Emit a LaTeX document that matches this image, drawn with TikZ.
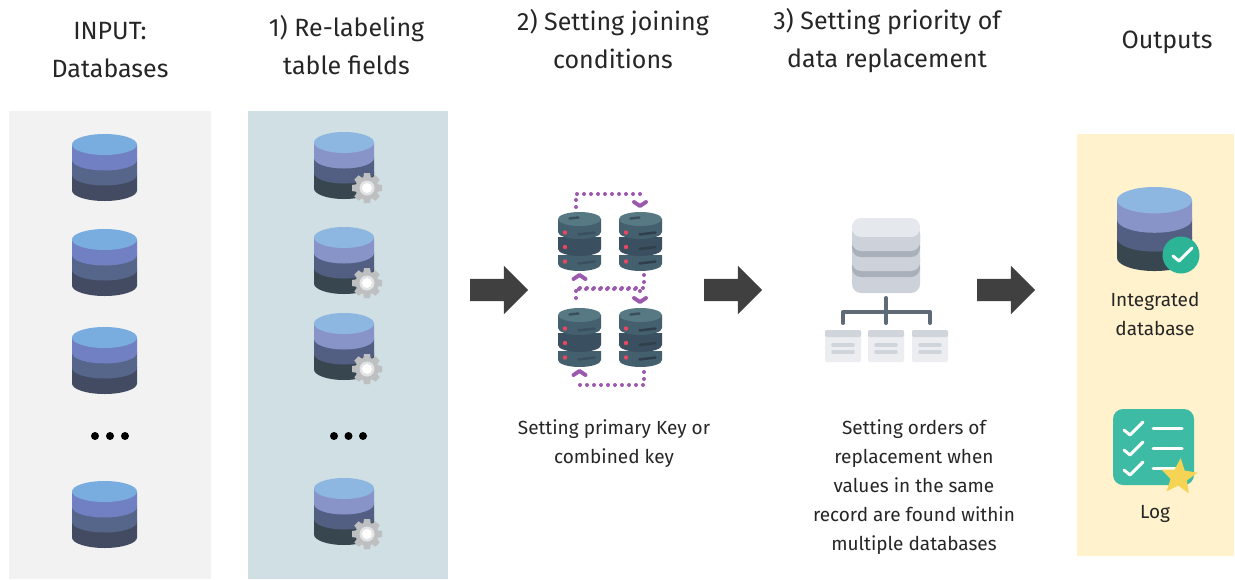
\documentclass[tikz,border=0pt]{standalone}
\usepackage{fontspec}
\setmainfont{Fira Sans}
\usetikzlibrary{shapes.arrows,shapes.geometric}
\definecolor{panelA}{HTML}{F2F2F2}
\definecolor{panelB}{HTML}{CFDFE3}
\definecolor{panelC}{HTML}{FFF2CC}
\definecolor{blockarrow}{HTML}{404040}
\definecolor{dotpurple}{HTML}{9B59AE}
\tikzset{
  x=1pt,y=-1pt,
  panel/.style={fill=#1,draw=none},
  heading/.style={font=\fontsize{25}{38}\selectfont,align=center,text=black!85,inner sep=0},
  caption/.style={font=\fontsize{19}{29}\selectfont,align=center,text=black!85,inner sep=0},
  flow/.style={single arrow,fill=blockarrow,draw=none,text height=22pt,text depth=0pt,text width=0pt,minimum width=48pt,minimum height=58pt,
    single arrow head extend=13pt,single arrow head indent=0pt,inner sep=0pt},
  dot/.style={circle,fill=black,draw=none,minimum size=8pt,inner sep=0pt},
  purplepath/.style={draw=dotpurple,line width=4pt,line cap=round,dash pattern=on 0pt off 7pt},
  chevron/.style={draw=dotpurple,line width=4pt,line cap=round,line join=round},
  pics/dbstack/.style n args={4}{code={
    \fill[#4] (-32.5,40) -- (-32.5,56.5) arc[start angle=180,end angle=0,x radius=32.5,y radius=10.5] -- (32.5,40) -- cycle;
    \fill[#3] (-32.5,25) -- (-32.5,41) arc[start angle=180,end angle=0,x radius=32.5,y radius=10.5] -- (32.5,25) -- cycle;
    \fill[#2] (-32.5,10.5) -- (-32.5,26) arc[start angle=180,end angle=0,x radius=32.5,y radius=10.5] -- (32.5,10.5) -- cycle;
    \fill[#1] (0,10.5) ellipse[x radius=32.5,y radius=10.5];
  }},
  pics/gear/.style={code={
    \foreach \a in {0,45,...,315}{
      \fill[gearC,rotate=\a] (-3,-15) -- (3,-15) -- (4,-9) -- (-4,-9) -- cycle;
    }
    \fill[gearC] (0,0) circle[radius=11.5];
    \fill[gearI] (0,0) circle[radius=7.5];
    \fill[white] (0,0) circle[radius=5];
  }},
  pics/server/.style={code={
    \fill[srvB] (-21.5,43) -- (-21.5,52) arc[start angle=180,end angle=0,x radius=21.5,y radius=7] -- (21.5,43) -- cycle;
    \fill[srvC] (-21.5,25) -- (-21.5,37) arc[start angle=180,end angle=0,x radius=21.5,y radius=7] -- (21.5,25) -- cycle;
    \fill[srvB] (-21.5,7) -- (-21.5,20) arc[start angle=180,end angle=0,x radius=21.5,y radius=7] -- (21.5,7) -- cycle;
    \fill[srvT] (0,7) ellipse[x radius=21.5,y radius=7];
    \draw[srvC,line width=2.5pt,line cap=round] (-10,6.5) -- (-1,5.5);
    \foreach \yy in {20.5,35,49.5}{
      \fill[srvR] (-14.5,\yy) circle[radius=2.2];
      \draw[#1,line width=2.5pt,line cap=round] (-1,\yy+2) -- (15,\yy);
    }
  }},
  pics/listbox/.style={code={
    \fill[boxB,rounded corners=2pt] (0,0) rectangle (36,32);
    \fill[boxH,rounded corners=2pt] (0,0) rectangle (36,7);
    \draw[boxH,line width=3.5pt,line cap=round] (8,15) -- (28,15);
    \draw[boxH,line width=3.5pt,line cap=round] (8,22) -- (28,22);
  }},
  pics/tick/.style={code={
    \draw[white,line width=3pt,line cap=round,line join=round] (0,0) -- (6,5) -- (19,-8);
  }}
}
\definecolor{inA}{HTML}{7AADDF}\definecolor{inB}{HTML}{7080C2}\definecolor{inC}{HTML}{56658A}\definecolor{inD}{HTML}{434B63}
\definecolor{outA}{HTML}{8DB6E0}\definecolor{outB}{HTML}{8894C8}\definecolor{outC}{HTML}{525E82}\definecolor{outD}{HTML}{38474F}
\definecolor{gearC}{HTML}{BDBFC0}\definecolor{gearI}{HTML}{E2E3E4}
\definecolor{srvT}{HTML}{567983}\definecolor{srvB}{HTML}{44606F}\definecolor{srvC}{HTML}{3A4F60}\definecolor{srvR}{HTML}{E8485F}\definecolor{srvL}{HTML}{2F3F4C}
\definecolor{boxB}{HTML}{EBEDF0}\definecolor{boxH}{HTML}{D0D4DB}
\definecolor{stackL}{HTML}{E5E8EC}\definecolor{stackM}{HTML}{CDD1D9}\definecolor{stackD}{HTML}{A9B0BA}\definecolor{treeC}{HTML}{5E6A76}
\definecolor{okG}{HTML}{2BB596}\definecolor{logG}{HTML}{3EBBA5}\definecolor{starY}{HTML}{F5D455}
\begin{document}
\begin{tikzpicture}
\useasboundingbox (0,0) rectangle (1235,579);
\fill[white] (0,0) rectangle (1235,579);
% panels
\path[panel=panelA] (9,111) rectangle (211,579);
\path[panel=panelB] (248,111) rectangle (448,579);
\path[panel=panelC] (1077,134) rectangle (1234,556);
% headings
\node[heading] (h1) at (110,50) {INPUT:\\Databases};
\node[heading] (h2) at (346.5,45) {1) Re-labeling\\table fields};
\node[heading] (h3) at (613,39.5) {2) Setting joining\\conditions};
\node[heading] (h4) at (887,40.5) {3) Setting priority of\\data replacement};
\node[heading] (h5) at (1167,42.5) {Outputs};
% input databases
\foreach \t in {134,229,327,481}{
  \pic at (104.5,\t) {dbstack={inA}{inB}{inC}{inD}};
}
\node[dot] (d1) at (95,436) {};
\node[dot] (d2) at (110,436) {};
\node[dot] (d3) at (125,436) {};
% relabel databases
\foreach \t in {132,227,313,478}{
  \pic[xscale=.923] at (344,\t) {dbstack={outA}{outB}{outC}{outD}};
  \pic at (367,\t+56) {gear};
}
\node[dot] (d4) at (334,436) {};
\node[dot] (d5) at (348.5,436) {};
\node[dot] (d6) at (363,436) {};
% arrows
\node[flow] (a1) at (493.5,290) {};
\node[flow] (a2) at (727.5,290) {};
\node[flow] (a3) at (1000.5,290) {};
% servers
\pic at (579.5,212) {server=srvC};
\pic at (640.5,212) {server=srvL};
\pic at (579.5,308) {server=srvC};
\pic at (640.5,308) {server=srvL};
% dotted links
\draw[purplepath] (576,207) -- (576,194) -- (640,194) -- (640,197);
\draw[chevron] (634,202) -- (640,206) -- (646,202);
\draw[purplepath] (644,275) -- (644,288) -- (576,288) -- (576,303);
\draw[purplepath] (579,289) -- (640,289) -- (640,293);
\draw[purplepath] (579,289) -- (579,283);
\draw[chevron] (573.5,279) -- (579.5,275) -- (585.5,279);
\draw[chevron] (634,298) -- (640,302) -- (646,298);
\draw[purplepath] (644,372) -- (644,385) -- (579,385) -- (579,380);
\draw[chevron] (573.5,375) -- (579.5,371) -- (585.5,375);
% replacement stack
\fill[stackM,rounded corners=9pt] (852,225) rectangle (920,293);
\fill[stackD,rounded corners=9pt] (852,258) rectangle (920,277);
\fill[stackM,rounded corners=9pt] (852,250) rectangle (920,271);
\fill[stackD,rounded corners=9pt] (852,238) rectangle (920,257);
\fill[stackM,rounded corners=9pt] (852,225) rectangle (920,251);
\fill[stackL,rounded corners=9pt] (852,218) rectangle (920,237);
\draw[treeC,line width=4pt,line cap=round,line join=round] (886,298) -- (886,323);
\draw[treeC,line width=4pt,line cap=round,line join=round] (843,323) -- (843,312) -- (930,312) -- (930,323);
\pic at (825,330) {listbox};
\pic at (868,330) {listbox};
\pic at (912,330) {listbox};
% captions
\node[caption] (c1) at (614,444) {Setting primary Key or\\combined key};
\node[caption] (c2) at (914,487.5) {Setting orders of\\replacement when\\values in the same\\record are found within\\multiple databases};
% outputs
\pic[xscale=1.154,yscale=1.254] at (1154.5,187) {dbstack={outA}{outB}{outC}{outD}};
\fill[okG] (1181,255) circle[radius=18.5];
\pic at (1173,256) {tick};
\node[caption] (c3) at (1155,314) {Integrated\\database};
\fill[logG,rounded corners=10pt] (1113,409) rectangle (1194,485);
\pic at (1124,430) {tick};
\pic at (1124,450) {tick};
\pic at (1124,470) {tick};
\draw[white,line width=3pt,line cap=round] (1153,428) -- (1182,428);
\draw[white,line width=3pt,line cap=round] (1153,448) -- (1182,448);
\draw[white,line width=3pt,line cap=round] (1153,468) -- (1182,468);
\node[star,star points=5,star point ratio=2.2,fill=starY,draw=none,minimum size=38pt,inner sep=0pt,rotate=-5] (st) at (1179,477) {};
\node[caption] (c4) at (1155,513.5) {Log};
\end{tikzpicture}
\end{document}
